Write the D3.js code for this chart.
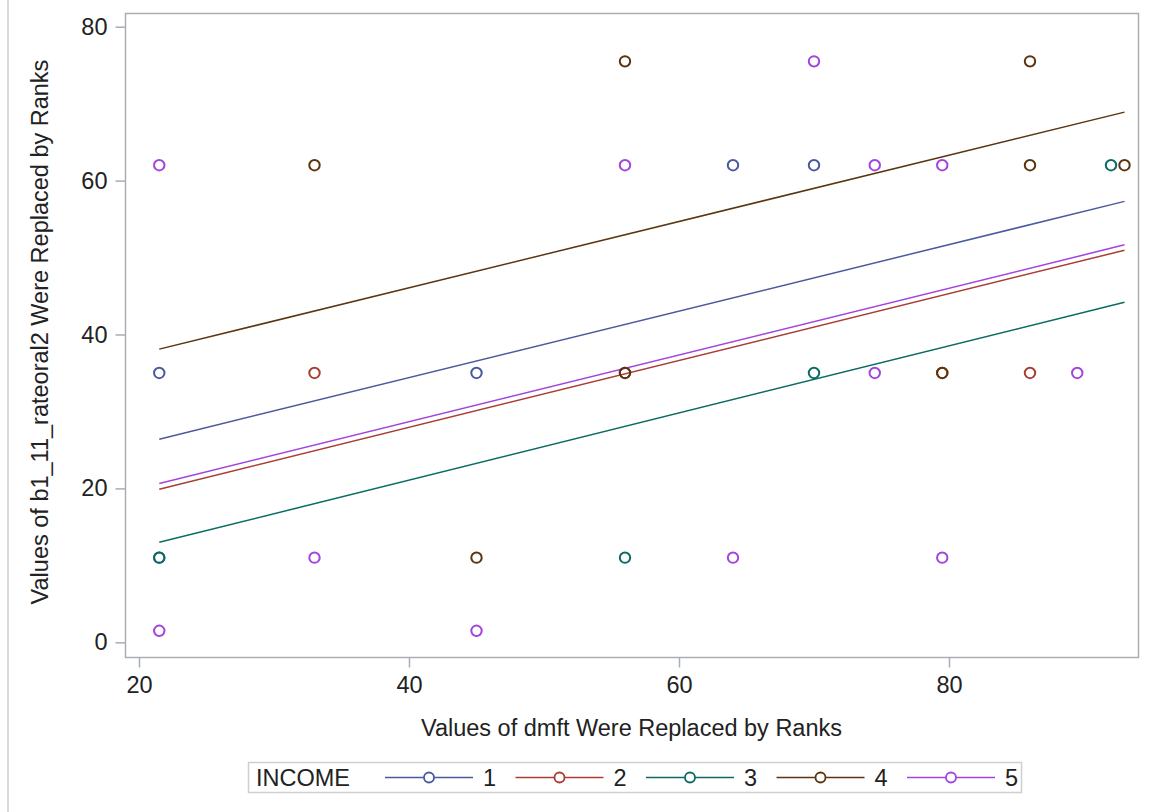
<!DOCTYPE html>
<html>
<head>
<meta charset="utf-8">
<script src="https://cdn.jsdelivr.net/npm/d3@7"></script>
<style>
  html, body { margin: 0; padding: 0; background: #fff; }
  svg { display: block; font-family: "Liberation Sans", Arial, sans-serif; }
</style>
</head>
<body>
<svg id="chart" width="1154" height="812"></svg>
<script>
// ---- Data ----
const groups = ["1", "2", "3", "4", "5"];
const groupColors = ["#4A5A9C", "#A83E34", "#0B6B63", "#5A3510", "#A244DE"];

const income1X = [21.5, 21.5, 45, 64, 70];
const income1Y = [35, 11, 35, 62, 62];
const income2X = [33, 56, 79.5, 86];
const income2Y = [35, 35, 35, 35];
const income3X = [21.5, 56, 70, 92];
const income3Y = [11, 11, 35, 62];
const income4X = [33, 45, 56, 56, 79.5, 86, 86, 93];
const income4Y = [62, 11, 75.5, 35, 35, 75.5, 62, 62];
const income5X = [21.5, 21.5, 33, 45, 56, 64, 70, 74.5, 74.5, 79.5, 79.5, 89.5];
const income5Y = [62, 1.5, 11, 1.5, 62, 11, 75.5, 62, 35, 62, 11, 35];

// fitted regression lines: value at fitX[0] and fitX[1] per group
const fitX = [21.5, 93];
const fitStart = [26.4, 19.9, 13.0, 38.1, 20.65];
const fitEnd = [57.3, 50.95, 44.2, 68.9, 51.65];

const xTicks = [20, 40, 60, 80];
const yTicks = [0, 20, 40, 60, 80];
const xTitle = "Values of dmft Were Replaced by Ranks";
const yTitle = "Values of b1_11_rateoral2 Were Replaced by Ranks";
const legendTitle = "INCOME";

// ---- Build series ----
const xsAll = [income1X, income2X, income3X, income4X, income5X];
const ysAll = [income1Y, income2Y, income3Y, income4Y, income5Y];
const series = groups.map((g, i) => ({
  name: g,
  color: groupColors[i],
  points: xsAll[i].map((x, j) => ({ x, y: ysAll[i][j] })),
  fit: [{ x: fitX[0], y: fitStart[i] }, { x: fitX[1], y: fitEnd[i] }]
}));

// ---- Layout ----
const svg = d3.select("#chart");
const plot = { left: 125, right: 1138, top: 13, bottom: 657 };
const x = d3.scaleLinear().domain([18.963, 94.0]).range([plot.left, plot.right]);
const y = d3.scaleLinear().domain([-1.91, 81.78]).range([plot.bottom, plot.top]);

const axisColor = "#A8AEB4";
const textColor = "#222222";
const fontSize = 23.5;

// left page edge line
svg.append("rect").attr("x", 7).attr("y", 0).attr("width", 2).attr("height", 812).attr("fill", "#DADADA");

// frame
svg.append("rect")
  .attr("x", plot.left + 0.5).attr("y", plot.top + 0.5)
  .attr("width", plot.right - plot.left).attr("height", plot.bottom - plot.top)
  .attr("fill", "none").attr("stroke", axisColor).attr("stroke-width", 1.5);

// axes
const xAxis = d3.axisBottom(x).tickValues(xTicks).tickSize(10).tickPadding(9);
const gx = svg.append("g").attr("transform", `translate(0,${plot.bottom + 0.5})`).call(xAxis);
const yAxis = d3.axisLeft(y).tickValues(yTicks).tickSize(10).tickPadding(8);
const gy = svg.append("g").attr("transform", `translate(${plot.left + 0.5},0)`).call(yAxis);
[gx, gy].forEach(g => {
  g.select(".domain").remove();
  g.selectAll(".tick line").attr("stroke", axisColor).attr("stroke-width", 1.5);
  g.selectAll(".tick text").attr("fill", textColor).style("font-size", fontSize + "px")
    .style("font-family", "'Liberation Sans', Arial, sans-serif");
});

// axis titles
svg.append("text")
  .attr("x", (plot.left + plot.right) / 2).attr("y", 736)
  .attr("text-anchor", "middle").attr("fill", textColor)
  .style("font-size", fontSize + "px").text(xTitle);
svg.append("text")
  .attr("transform", `translate(48,${(plot.top + plot.bottom) / 2 - 3}) rotate(-90)`)
  .attr("text-anchor", "middle").attr("fill", textColor)
  .style("font-size", fontSize + "px").text(yTitle);

// clip
svg.append("clipPath").attr("id", "clip").append("rect")
  .attr("x", plot.left).attr("y", plot.top)
  .attr("width", plot.right - plot.left).attr("height", plot.bottom - plot.top);
const gPlot = svg.append("g").attr("clip-path", "url(#clip)");

// fit lines
const line = d3.line().x(d => x(d.x)).y(d => y(d.y));
series.forEach(s => {
  gPlot.append("path").datum(s.fit)
    .attr("d", line).attr("fill", "none")
    .attr("stroke", s.color).attr("stroke-width", 1.5);
});

// markers
series.forEach(s => {
  gPlot.selectAll(null).data(s.points).enter().append("circle")
    .attr("cx", d => x(d.x)).attr("cy", d => y(d.y)).attr("r", 5.2)
    .attr("fill", "none").attr("stroke", s.color).attr("stroke-width", 2);
});

// legend
const legend = svg.append("g");
legend.append("rect").attr("x", 248.5).attr("y", 762.5).attr("width", 773).attr("height", 30)
  .attr("fill", "#fff").attr("stroke", "#CFCFCF").attr("stroke-width", 1.5);
legend.append("text").attr("x", 256).attr("y", 786).attr("fill", textColor)
  .style("font-size", fontSize + "px").text(legendTitle);
const legX0 = 385, legStep = 130.5, legLen = 88;
series.forEach((s, i) => {
  const lx = legX0 + i * legStep;
  legend.append("line").attr("x1", lx).attr("x2", lx + legLen).attr("y1", 777.5).attr("y2", 777.5)
    .attr("stroke", s.color).attr("stroke-width", 1.5);
  legend.append("circle").attr("cx", lx + legLen / 2).attr("cy", 777.5).attr("r", 5)
    .attr("fill", "#fff").attr("stroke", s.color).attr("stroke-width", 1.8);
  legend.append("text").attr("x", lx + legLen + 10).attr("y", 786).attr("fill", textColor)
    .style("font-size", fontSize + "px").text(s.name);
});
</script>
</body>
</html>
